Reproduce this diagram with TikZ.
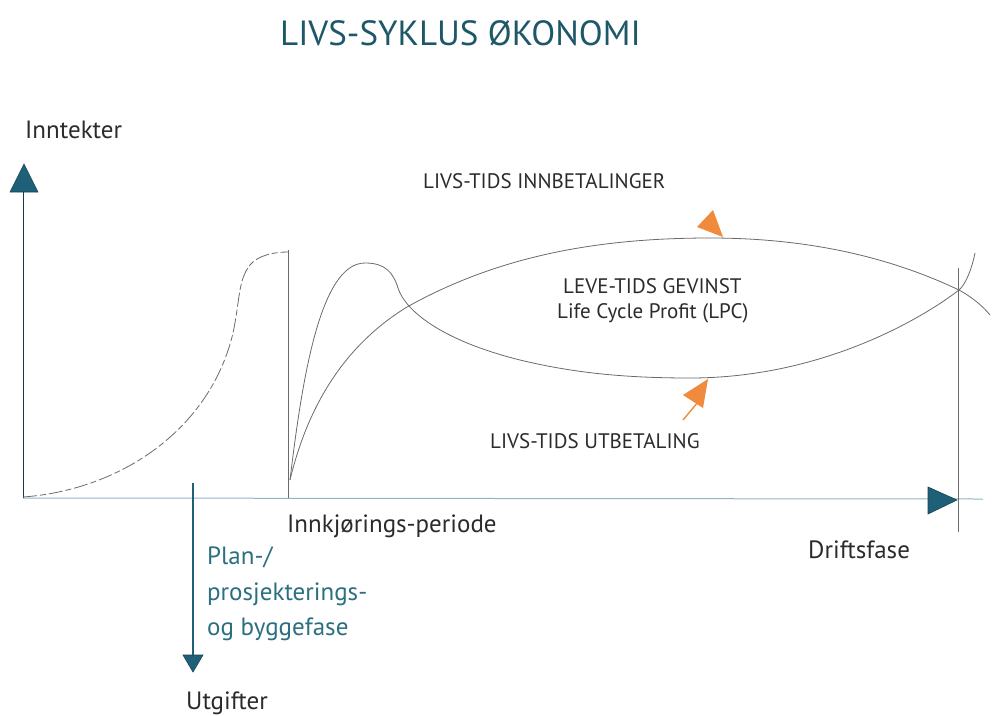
\documentclass[tikz,border=0pt]{standalone}
\usepackage{fontspec}
\setmainfont{PT Sans}
\definecolor{teal1}{HTML}{1F6078}
\definecolor{tealtxt}{HTML}{2B6F80}
\definecolor{titlecol}{HTML}{1E5868}
\definecolor{txt}{HTML}{2B2B2B}
\definecolor{crv}{HTML}{6A6A6A}
\definecolor{axiscol}{HTML}{8FB4C8}
\definecolor{orng}{HTML}{F08A3C}
\tikzset{
  curve/.style={draw=crv, line width=0.8pt},
  dcurve/.style={draw=crv, line width=0.8pt, dash pattern=on 14pt off 3pt on 6pt off 3pt},
  axisline/.style={draw=axiscol, line width=1pt},
  thinv/.style={draw=crv, line width=0.8pt},
  tealhead/.style={fill=teal1, draw=teal1!70!black, line width=0.6pt},
  orhead/.style={fill=orng, draw=none},
  lbl/.style={text=txt, inner sep=0pt, anchor=base west},
  tlbl/.style={text=tealtxt, inner sep=0pt, anchor=base west},
  big/.style={font=\fontsize{25}{30}\selectfont},
  mid/.style={font=\fontsize{21}{25}\selectfont},
}
\begin{document}
\begin{tikzpicture}[x=1pt,y=-1pt]
\useasboundingbox (0,0) rectangle (992,715);
% title
\node[inner sep=0pt, anchor=base west, text=titlecol, font=\fontsize{35}{40}\selectfont] (title) at (280,45) {LIVS-SYKLUS ØKONOMI};
% axes
\draw[axisline] (23,498) -- (983,499);
\draw[draw=teal1!60!black, line width=1pt] (23,498) -- (23,190);
\filldraw[tealhead] (24,164) -- (38,192) -- (10,192) -- cycle;
\filldraw[tealhead] (957,500) -- (928,514) -- (928,487) -- cycle;
% down arrow
\draw[draw=teal1, line width=1.4pt] (193,483) -- (193,658);
\filldraw[tealhead] (193,672) -- (183,655) -- (203,655) -- cycle;
% vertical lines
\draw[thinv] (288,250) -- (288,498);
\draw[thinv] (958,268) -- (958,532);
% left S curve
\draw[dcurve] (23,497) .. controls (120,490) and (210,430) .. (233,333)
  .. controls (240,300) and (238,280) .. (250,265)
  .. controls (258,255) and (275,252) .. (288,252);
% hump curve -> bottom of ellipse
\draw[curve] (290,480) .. controls (302,380) and (320,263) .. (365,263)
  .. controls (385,263) and (393,272) .. (398,288)
  .. controls (405,310) and (440,340) .. (520,360)
  .. controls (570,372) and (620,378) .. (690,378)
  .. controls (820,378) and (920,320) .. (959,290)
  .. controls (966,284) and (972,268) .. (975,253);
% second curve -> top of ellipse
\draw[curve] (290,480) .. controls (308,405) and (345,345) .. (407,307)
  .. controls (500,255) and (600,238) .. (710,238)
  .. controls (820,238) and (900,262) .. (959,290)
  .. controls (970,296) and (982,305) .. (990,315);
% orange arrows
\fill[orhead] (713,210) -- (723,237) -- (697,227) -- cycle;
\draw[draw=orng, line width=1.4pt] (683,420) -- (698,402);
\fill[orhead] (708,379) -- (703,408) -- (683,395) -- cycle;
% labels
\node[lbl, big] (inn) at (25,138) {Inntekter};
\node[lbl, mid] (innbet) at (423,188) {LIVS-TIDS INNBETALINGER};
\node[lbl, mid] (gev) at (563,293) {LEVE-TIDS GEVINST};
\node[lbl, mid] (lcp) at (557,318) {Life Cycle Profit (LPC)};
\node[lbl, mid] (utbet) at (490,448) {LIVS-TIDS UTBETALING};
\node[lbl, big] (innk) at (287,532) {Innkjørings-periode};
\node[lbl, big] (drift) at (808,558) {Driftsfase};
\node[tlbl, big] (plan1) at (207,564) {Plan-/};
\node[tlbl, big] (plan2) at (207,600) {prosjekterings-};
\node[tlbl, big] (plan3) at (207,635) {og byggefase};
\node[lbl, big] (utg) at (186,709) {Utgifter};
\end{tikzpicture}
\end{document}
